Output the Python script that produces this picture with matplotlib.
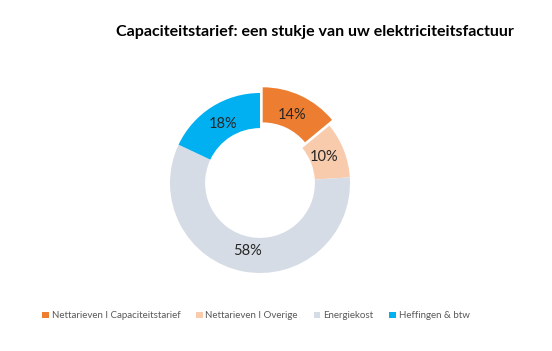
import matplotlib.pyplot as plt

labels = ['Nettarieven I Capaciteitstarief', 'Nettarieven I Overige',
          'Energiekost', 'Heffingen & btw']
values = [14, 10, 58, 18]
colors = ['#ED7D31', '#F8CBAD', '#D6DCE5', '#00B0F0']
explode = [0.07, 0, 0, 0]

plt.rcParams['font.family'] = ['Lato', 'DejaVu Sans']

fig = plt.figure(figsize=(5.52, 3.51), dpi=100)

# donut: center (260,183) px, radius 90 px
r = 90
ax = fig.add_axes([(260 - 100) / 552, (351 - 183 - 100) / 351, 200 / 552, 200 / 351])
wedges, texts, autotexts = ax.pie(
    values, colors=colors, explode=explode, startangle=90, counterclock=False,
    autopct='%d%%', pctdistance=0.77,
    wedgeprops=dict(width=0.39, linewidth=0),
    textprops=dict(fontsize=10.5, color='#262626'))
ax.set_xlim(-100 / r, 100 / r)
ax.set_ylim(-100 / r, 100 / r)
ax.set_aspect('auto')

fig.text(0.21, 0.91, 'Capaciteitstarief: een stukje van uw elektriciteitsfactuur',
         fontsize=11.5, fontweight='bold', color='black', va='center', ha='left')

leg = fig.legend(wedges, labels, loc='center left', bbox_to_anchor=(0.06, 0.1),
                 ncol=4, frameon=False, fontsize=7, handlelength=0.7, handleheight=0.7,
                 handletextpad=0.3, columnspacing=1.6)
for t in leg.get_texts():
    t.set_color('#595959')

fig.savefig('out.png', dpi=100)
